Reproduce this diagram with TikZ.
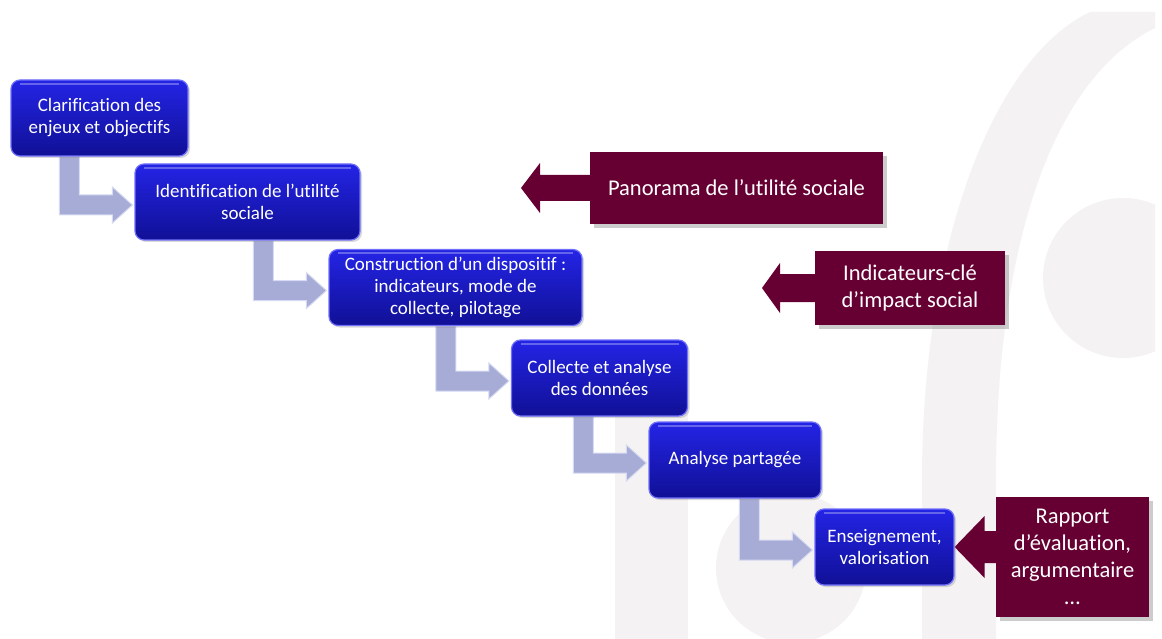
\documentclass[tikz,border=0pt]{standalone}
\usepackage{fontspec}
\setmainfont{Carlito}[Ligatures=CommonOff]
\usetikzlibrary{calc,shadows}

\pgfdeclarelayer{background}
\pgfsetlayers{background,main}

\definecolor{stepblue}{RGB}{36,36,230}
\definecolor{stepdark}{RGB}{16,16,150}
\definecolor{stepedge}{RGB}{112,112,250}
\definecolor{lavender}{RGB}{166,172,214}
\definecolor{lavlight}{RGB}{214,218,242}
\definecolor{wine}{RGB}{102,0,51}
\definecolor{logogray}{RGB}{245,242,243}

\begin{document}
\begin{tikzpicture}[x=1pt, y=1pt, thick]

    \tikzset{stepbox/.style={%
      draw=stepedge,%
      line width=1.2pt,%
      rounded corners=9pt,%
      top color=stepblue,%
      bottom color=stepdark,%
      text=white,%
      align=center,%
      font=\fontsize{19}{22}\selectfont,%
      minimum height=76pt,%
      drop shadow={shadow xshift=2pt, shadow yshift=-2pt, opacity=0.3},%
      path picture={\draw[white, opacity=0.3, line width=2pt]
        ([xshift=9pt, yshift=-4pt]path picture bounding box.north west) --
        ([xshift=-9pt, yshift=-4pt]path picture bounding box.north east);}}%
    };

    \tikzset{callout/.style={%
      fill=wine,%
      text=white,%
      align=center,%
      font=\fontsize{22.5}{27}\selectfont,%
      drop shadow={shadow xshift=4pt, shadow yshift=-4pt, opacity=0.4}}%
    };

    \tikzset{elbow/.style={fill=lavender, draw=lavlight, line width=1pt}};
    \tikzset{pointer/.style={fill=wine}};

    \useasboundingbox (0,0) rectangle (1162,-639);

    %%%%%%%%%%%%%%%
    %    logo     %
    %%%%%%%%%%%%%%%
    \begin{pgfonlayer}{background}
      \fill[logogray] (922,-639) -- (922,-480)
        .. controls (922,-250) and (990,-60) .. (1090,-12)
        -- (1155,-12) -- (1155,-28)
        .. controls (1050,-80) and (996,-250) .. (996,-480)
        -- (996,-639) -- cycle;
      \begin{scope}
        \clip (0,0) rectangle (1155,-639);
        \fill[logogray] (1123,-278) circle (80pt);
      \end{scope}
      \fill[logogray] (615,-639) rectangle (688,-405);
      \fill[logogray] (791,-568) circle (75pt);
    \end{pgfonlayer}

    %%%%%%%%%%%%%%%
    %    steps    %
    %%%%%%%%%%%%%%%
    \node[stepbox, minimum width=177pt] (clar) at (99.5,-118) {Clarification des\\enjeux et objectifs};
    \node[stepbox, minimum width=225pt] (iden) at (247.5,-202) {Identification de l’utilité\\sociale};
    \node[stepbox, minimum width=253pt] (cons) at (455.5,-287.5) {Construction d’un dispositif :\\indicateurs, mode de\\collecte, pilotage};
    \node[stepbox, minimum width=176pt] (coll) at (599.5,-378) {Collecte et analyse\\des données};
    \node[stepbox, minimum width=172pt] (anal) at (735,-460) {Analyse partagée};
    \node[stepbox, minimum width=139pt] (ense) at (884.5,-547) {Enseignement,\\valorisation};

    %%%%%%%%%%%%%%%
    %  outputs    %
    %%%%%%%%%%%%%%%
    \node[callout, minimum width=293pt, minimum height=72pt] (pano) at (736.5,-188) {Panorama de l’utilité sociale};
    \node[callout, minimum width=190pt, minimum height=74pt] (indi) at (910,-288) {Indicateurs-clé\\d’impact social};
    \node[callout, minimum width=153pt, minimum height=120pt] (rapp) at (1072.5,-557) {Rapport\\d’évaluation,\\argumentaire\\…};

    \coordinate (panotip) at (521,-188);
    \coordinate (inditip) at (762,-288);

    \begin{pgfonlayer}{background}
      \foreach \src/\dst in {clar/iden, iden/cons, cons/coll, coll/anal, anal/ense}
        \filldraw[elbow] let \p1 = (\src.south), \p2 = (\dst.west) in
          (\x2-75pt,\y1) -- (\x2-75pt,\y2-13pt) -- (\x2-22pt,\y2-13pt)
          -- (\x2-22pt,\y2-21pt) -- (\x2-2pt,\y2-3pt) -- (\x2-22pt,\y2+15pt)
          -- (\x2-22pt,\y2+7pt) -- (\x2-55pt,\y2+7pt) -- (\x2-55pt,\y1) -- cycle;

      \foreach \out/\tip/\shaft/\head/\hlen in {pano/panotip/13/25/19, indi/inditip/14/25/18, rapp/ense.east/16/31/30}
        \fill[pointer] let \p1 = (\out.west), \p2 = (\tip) in
          (\x1,\y2+\shaft pt) -- (\x2+\hlen pt,\y2+\shaft pt) -- (\x2+\hlen pt,\y2+\head pt)
          -- (\x2,\y2) -- (\x2+\hlen pt,\y2-\head pt) -- (\x2+\hlen pt,\y2-\shaft pt)
          -- (\x1,\y2-\shaft pt) -- cycle;
    \end{pgfonlayer}

  \end{tikzpicture}
\end{document}
